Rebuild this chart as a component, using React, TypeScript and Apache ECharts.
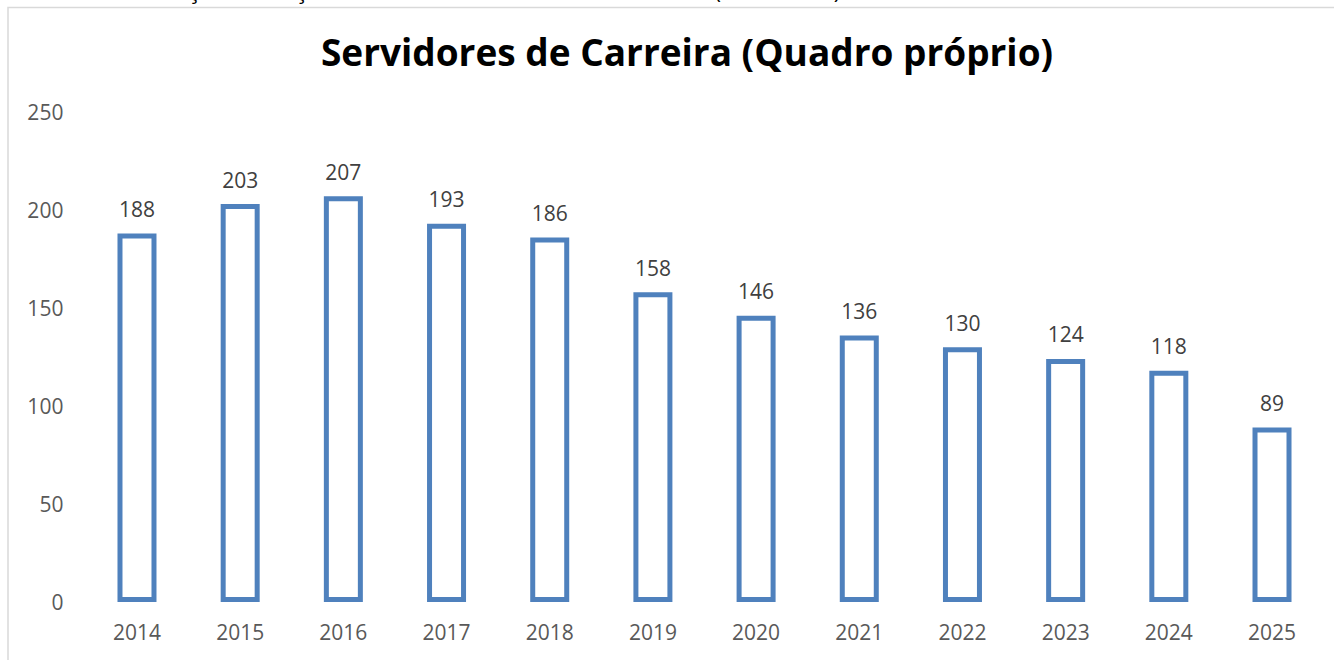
import React, { useEffect, useRef } from "react";
import * as echarts from "echarts";

const years = ["2014", "2015", "2016", "2017", "2018", "2019", "2020", "2021", "2022", "2023", "2024", "2025"];
const servidores = [188, 203, 207, 193, 186, 158, 146, 136, 130, 124, 118, 89];
const chartTitle = "Servidores de Carreira (Quadro próprio)";
const captionText = "Gráfico 5 – Evolução da força de trabalho – Servidores de carreira (2014-2025)";

export default function App() {
  const ref = useRef<HTMLDivElement>(null);
  useEffect(() => {
    if (!ref.current) return;
    const chart = echarts.init(ref.current, null, { renderer: "svg" });
    chart.setOption({
      animation: false,
      backgroundColor: "#ffffff",
      title: {
        text: chartTitle,
        left: 682,
        textAlign: "center",
        top: 28,
        textStyle: { fontFamily: "Open Sans", fontWeight: "bold", fontSize: 37, color: "#000000" },
      },
      graphic: [
        {
          type: "rect",
          shape: { x: 8, y: 7.5, width: 1400, height: 700 },
          style: { fill: "none", stroke: "#d9d9d9", lineWidth: 1.5 },
          silent: true,
        },
        {
          type: "text",
          x: 10,
          y: -22.5,
          style: { text: captionText, fontFamily: "Open Sans", fontSize: 23, fill: "#000000" },
          silent: true,
        },
      ],
      grid: { left: 85.4, right: 10.4, top: 112, bottom: 58, containLabel: false },
      xAxis: {
        type: "category",
        data: years,
        axisLine: { show: false },
        axisTick: { show: false },
        axisLabel: { color: "#595959", fontSize: 21, fontFamily: "Open Sans", margin: 19 },
      },
      yAxis: {
        type: "value",
        min: 0,
        max: 250,
        interval: 50,
        splitLine: { show: false },
        axisLine: { show: false },
        axisTick: { show: false },
        axisLabel: { color: "#595959", fontSize: 21, fontFamily: "Open Sans", margin: 22 },
      },
      series: [
        {
          type: "bar",
          data: servidores,
          barWidth: 39,
          itemStyle: { color: "#ffffff", borderColor: "#4f81bd", borderWidth: 5 },
          label: {
            show: true,
            position: "top",
            distance: 14,
            color: "#404040",
            fontSize: 21,
            fontFamily: "Open Sans",
          },
        },
      ],
    });
    return () => chart.dispose();
  }, []);
  return <div ref={ref} style={{ position: "fixed", left: 0, top: 0, width: 1334, height: 660 }} />;
}
